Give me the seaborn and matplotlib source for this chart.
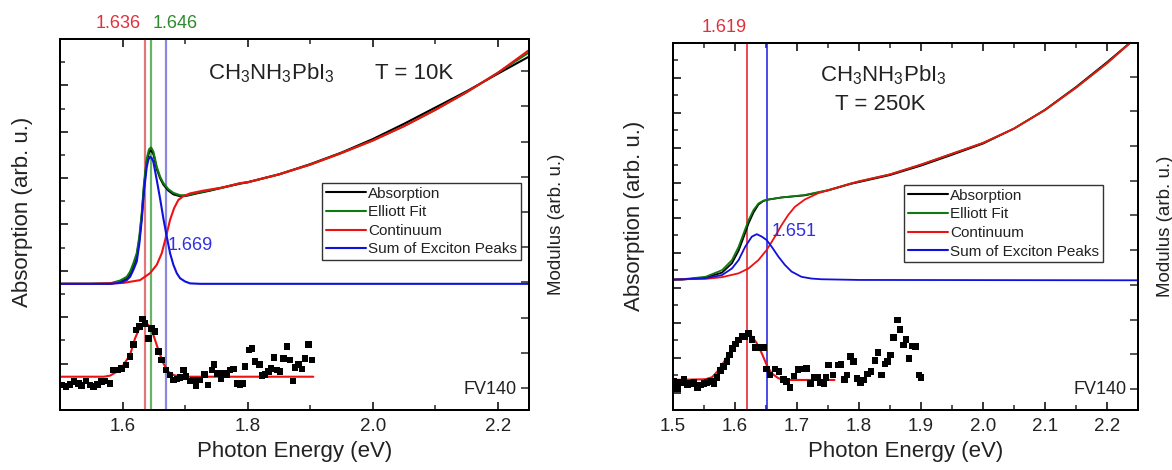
import numpy as np
import pandas as pd
import matplotlib
matplotlib.use('Agg')
import matplotlib.pyplot as plt
import seaborn as sns
from matplotlib.lines import Line2D
from matplotlib.ticker import MultipleLocator, FixedLocator
import matplotlib.transforms as mtransforms

# ---------------- data: left panel (T = 10K) ----------------
L_blue_E = [1.50, 1.548, 1.58, 1.596, 1.6067, 1.612, 1.6173, 1.6227, 1.6269, 1.6307, 1.6344, 1.6387,
            1.6413, 1.644, 1.6467, 1.6493, 1.6547, 1.66, 1.6653, 1.6707, 1.676, 1.6813, 1.6867, 1.692,
            1.70, 1.708, 1.724, 2.25]
L_blue_v = [2.72, 2.72, 2.72, 2.74, 2.80, 2.87, 3.02, 3.20, 3.59, 4.10, 4.74, 5.24,
            5.40, 5.46, 5.43, 5.35, 4.96, 4.56, 4.13, 3.74, 3.38, 3.13, 2.95, 2.84,
            2.77, 2.73, 2.72, 2.72]

L_fit_E = [1.50, 1.548, 1.58, 1.596, 1.6067, 1.612, 1.6173, 1.6227, 1.6269, 1.6307, 1.6344, 1.6387,
           1.6424, 1.6456, 1.6493, 1.6547, 1.66, 1.6653, 1.6733, 1.6813, 1.692, 1.7027, 1.7187, 1.74,
           1.7613, 1.788, 1.80, 1.85, 1.90, 1.95, 2.00, 2.05, 2.10, 2.15, 2.20, 2.25]
L_green_v = [2.72, 2.72, 2.73, 2.79, 2.87, 2.98, 3.16, 3.38, 3.74, 4.24, 4.89, 5.42,
             5.62, 5.66, 5.57, 5.24, 5.03, 4.89, 4.76, 4.68, 4.63, 4.63, 4.68, 4.74,
             4.80, 4.89, 4.91, 5.08, 5.29, 5.54, 5.81, 6.12, 6.47, 6.85, 7.27, 7.71]
L_black_v = [2.72, 2.72, 2.72, 2.76, 2.83, 2.93, 3.10, 3.32, 3.68, 4.18, 4.82, 5.36,
             5.56, 5.60, 5.52, 5.20, 5.00, 4.86, 4.73, 4.65, 4.61, 4.62, 4.67, 4.73,
             4.80, 4.88, 4.91, 5.08, 5.30, 5.55, 5.84, 6.17, 6.52, 6.87, 7.25, 7.62]

L_red_E = [1.50, 1.548, 1.6013, 1.628, 1.644, 1.6547, 1.6627, 1.6696, 1.676, 1.6824, 1.6893, 1.6973,
           1.708, 1.7293, 1.7613, 1.788, 1.80, 1.85, 1.90, 1.95, 2.00, 2.05, 2.10, 2.15, 2.20, 2.25]
L_red_v = [2.72, 2.72, 2.74, 2.80, 2.95, 3.13, 3.38, 3.74, 4.10, 4.35, 4.53, 4.61,
           4.67, 4.73, 4.80, 4.89, 4.91, 5.08, 5.29, 5.54, 5.81, 6.12, 6.47, 6.85, 7.27, 7.76]

L_mod_E = [1.5027, 1.5096, 1.516, 1.5224, 1.5293, 1.5347, 1.5416, 1.548, 1.5533, 1.5597, 1.5667, 1.572,
           1.58, 1.5853, 1.5917, 1.5987, 1.6056, 1.612, 1.6173, 1.6216, 1.6269, 1.6317, 1.636, 1.6413,
           1.6467, 1.652, 1.6573, 1.6627, 1.6696, 1.676, 1.6813, 1.6867, 1.692, 1.6973, 1.7016, 1.708,
           1.7133, 1.7176, 1.724, 1.7309, 1.7363, 1.7427, 1.7464, 1.7507, 1.7571, 1.7613, 1.7667, 1.772,
           1.7773, 1.7827, 1.788, 1.7923, 1.796, 1.8024, 1.8067, 1.812, 1.8189, 1.8227, 1.828, 1.8333,
           1.8376, 1.8424, 1.8467, 1.852, 1.8573, 1.8627, 1.868, 1.8723, 1.876, 1.8813, 1.8867, 1.892,
           1.8973, 1.9027]
L_mod_w = [0.085, 0.038, 0.104, 0.18, 0.133, 0.066, 0.199, 0.085, 0.038, 0.104, 0.18, 0.199,
           0.133, 0.511, 0.511, 0.559, 0.653, 0.89, 1.24, 1.648, 1.742, 1.96, 1.837, 1.411,
           1.695, 1.6, 1.032, 0.795, 0.511, 0.369, 0.227, 0.256, 0.294, 0.511, 0.322, 0.199,
           0.227, 0.066, 0.227, 0.388, 0.085, 0.511, 0.672, 0.417, 0.256, 0.417, 0.388, 0.511,
           0.54, 0.133, 0.104, 0.133, 0.606, 1.08, 1.127, 0.748, 0.672, 0.35, 0.388, 0.464,
           0.559, 0.862, 0.511, 0.464, 0.843, 1.174, 0.795, 0.199, 0.578, 0.672, 0.54, 0.843,
           1.24, 0.795]
L_modfit_E = [1.50, 1.57, 1.58, 1.5907, 1.6013, 1.612, 1.62, 1.628, 1.6344, 1.6413, 1.6493, 1.6573,
              1.6653, 1.6733, 1.6813, 1.692, 1.905]
L_modfit_w = [0.32, 0.32, 0.35, 0.46, 0.65, 0.94, 1.41, 1.74, 1.88, 1.79, 1.51, 1.08,
              0.70, 0.46, 0.37, 0.32, 0.32]

L_peaks = [1.636, 1.646, 1.669]

# ---------------- data: right panel (T = 250K) ----------------
R_blue_E = [1.50, 1.5152, 1.5525, 1.5792, 1.5952, 1.6059, 1.6165, 1.6272, 1.6352, 1.6432, 1.6512, 1.6592,
            1.6699, 1.6805, 1.6912, 1.7072, 1.7232, 1.7392, 1.80, 2.25]
R_blue_v = [3.23, 3.24, 3.27, 3.36, 3.55, 3.79, 4.17, 4.46, 4.53, 4.46, 4.36, 4.17,
            3.89, 3.65, 3.46, 3.31, 3.26, 3.24, 3.22, 3.21]

R_fit_E = [1.50, 1.5152, 1.5525, 1.5792, 1.5952, 1.6059, 1.6139, 1.6219, 1.6299, 1.6379, 1.6459, 1.6539,
           1.6752, 1.7125, 1.7499, 1.7872, 1.80, 1.85, 1.90, 1.95, 2.00, 2.05, 2.10, 2.15, 2.20, 2.25]
R_green_v = [3.23, 3.24, 3.31, 3.50, 3.79, 4.17, 4.55, 4.93, 5.22, 5.41, 5.49, 5.52,
             5.58, 5.65, 5.79, 5.98, 6.04, 6.24, 6.52, 6.83, 7.14, 7.55, 8.08, 8.72, 9.42, 10.2]
R_black_v = [3.23, 3.23, 3.29, 3.43, 3.70, 4.06, 4.44, 4.84, 5.15, 5.38, 5.48, 5.52,
             5.58, 5.64, 5.78, 5.97, 6.02, 6.22, 6.49, 6.80, 7.12, 7.55, 8.09, 8.74, 9.45, 10.2]

R_red_E = [1.50, 1.5152, 1.5525, 1.5792, 1.6059, 1.6219, 1.6379, 1.6512, 1.6645, 1.6752, 1.6859, 1.6965,
           1.7125, 1.7339, 1.7605, 1.7872, 1.80, 1.85, 1.90, 1.95, 2.00, 2.05, 2.10, 2.15, 2.20, 2.25]
R_red_v = [3.23, 3.24, 3.25, 3.30, 3.41, 3.55, 3.79, 4.08, 4.46, 4.79, 5.08, 5.31,
           5.52, 5.70, 5.84, 5.98, 6.04, 6.24, 6.52, 6.83, 7.14, 7.55, 8.08, 8.72, 9.42, 10.2]

R_mod_E = [1.5019, 1.5072, 1.5125, 1.5179, 1.5232, 1.5285, 1.5339, 1.5392, 1.5445, 1.5499, 1.5552, 1.5605,
           1.5659, 1.5712, 1.5765, 1.5819, 1.5872, 1.5909, 1.5963, 1.6005, 1.6059, 1.6112, 1.6165, 1.6219,
           1.6272, 1.6325, 1.6389, 1.6459, 1.6512, 1.6565, 1.6645, 1.6709, 1.6779, 1.6832, 1.6885, 1.6955,
           1.7019, 1.7083, 1.7152, 1.7221, 1.7275, 1.7328, 1.7381, 1.7435, 1.7472, 1.7509, 1.7579, 1.7659,
           1.7712, 1.7765, 1.7808, 1.7861, 1.7915, 1.7968, 1.8021, 1.8075, 1.8139, 1.8192, 1.8256, 1.8309,
           1.8363, 1.8416, 1.8459, 1.8512, 1.8555, 1.8619, 1.8661, 1.8715, 1.8757, 1.8805, 1.8859, 1.8912,
           1.8965, 1.9003]
R_mod_w = [0.211, 0.019, 0.183, 0.279, 0.115, 0.163, 0.183, 0.048, 0.115, 0.163, 0.183, 0.211,
           0.144, 0.336, 0.528, 0.644, 0.788, 0.98, 1.172, 1.297, 1.412, 1.527, 1.508, 1.604,
           1.431, 1.201, 1.201, 1.201, 0.576, 0.403, 0.576, 0.5, 0.279, 0.211, 0.048, 0.375,
           0.567, 0.576, 0.596, 0.163, 0.336, 0.336, 0.183, 0.163, 0.336, 0.692, 0.403, 0.692,
           0.711, 0.279, 0.403, 0.932, 0.788, 0.307, 0.183, 0.259, 0.432, 0.5, 0.817, 1.047,
           0.403, 0.72, 0.788, 0.98, 1.489, 1.988, 1.72, 1.268, 1.431, 0.884, 1.239, 1.22,
           0.403, 0.336]
R_modfit_E = [1.50, 1.5525, 1.5632, 1.5739, 1.5845, 1.5952, 1.6059, 1.6139, 1.6208, 1.6272, 1.6352, 1.6432,
              1.6512, 1.6592, 1.6699, 1.6805, 1.7605]
R_modfit_w = [0.26, 0.28, 0.34, 0.55, 0.84, 1.17, 1.43, 1.56, 1.58, 1.51, 1.32, 1.03,
              0.69, 0.45, 0.31, 0.26, 0.26]

R_peaks = [1.619, 1.651]

legend_labels = ['Absorption', 'Elliott Fit', 'Continuum', 'Sum of Exciton Peaks']

# ---------------- style ----------------
sns.set_theme(style='ticks')
plt.rcParams['font.family'] = ['Liberation Sans', 'DejaVu Sans']
plt.rcParams['mathtext.fontset'] = 'custom'
plt.rcParams['mathtext.rm'] = 'Liberation Sans'
plt.rcParams['mathtext.it'] = 'Liberation Sans:italic'
plt.rcParams['mathtext.bf'] = 'Liberation Sans:bold'

C_BLACK = '#000000'
C_GREEN = '#0f7a0f'
C_RED = '#ee1111'
C_BLUE = '#1010dd'
TXT = '#222222'

fig = plt.figure(figsize=(11.72, 4.70), dpi=100)
axL = fig.add_axes([0.0512, 0.1277, 0.4002, 0.7894])
axR = fig.add_axes([0.5742, 0.1277, 0.3968, 0.7809])


def line(ax, x, y, color, lw):
    sns.lineplot(x=np.asarray(x), y=np.asarray(y), ax=ax, color=color, linewidth=lw,
                 sort=False, estimator=None, legend=False)


def style_axes(ax, twin, ylim, tylim, xmajor, xminor, ymajor, yminor, twin_major):
    ax.set_xlim(1.5, 2.25)
    ax.set_ylim(*ylim)
    twin.set_ylim(*tylim)
    ax.xaxis.set_major_locator(MultipleLocator(xmajor))
    ax.xaxis.set_minor_locator(MultipleLocator(xminor))
    ax.yaxis.set_major_locator(MultipleLocator(ymajor))
    ax.yaxis.set_minor_locator(MultipleLocator(yminor))
    twin.yaxis.set_major_locator(MultipleLocator(twin_major))
    ax.tick_params(axis='both', which='major', direction='in', length=6, width=1.1,
                   top=True, right=False, labelleft=False, labelsize=13.5, colors='black',
                   labelcolor=TXT, pad=6)
    ax.tick_params(axis='both', which='minor', direction='in', length=3.5, width=1.1,
                   top=True, right=False)
    twin.tick_params(axis='y', which='major', direction='in', length=6, width=1.1,
                     right=True, labelright=False)
    twin.tick_params(axis='y', which='minor', right=False)
    for a in (ax, twin):
        for s in a.spines.values():
            s.set_linewidth(1.4)
            s.set_color('black')
            s.set_visible(True)
    ax.set_xlabel('Photon Energy (eV)', fontsize=16, color=TXT, labelpad=4)
    ax.set_ylabel('')
    twin.set_ylabel('')


def legend(ax, anchor):
    handles = [Line2D([], [], color=c, lw=1.5) for c in (C_BLACK, C_GREEN, C_RED, C_BLUE)]
    leg = ax.legend(handles, legend_labels, loc='upper right', bbox_to_anchor=anchor,
                    fontsize=11, frameon=True, fancybox=False, framealpha=1,
                    edgecolor='#333333', borderaxespad=0, borderpad=0.25,
                    labelspacing=0.3, handlelength=2.6, handletextpad=0.15)
    leg.get_frame().set_linewidth(1.0)
    for t in leg.get_texts():
        t.set_color(TXT)
    leg.set_zorder(20)


# ---------------- left panel ----------------
ax = axL
for xp, c in zip(L_peaks, ['#dd5555', '#44a044', '#6a6ad8']):
    ax.axvline(xp, color=c, lw=1.6, alpha=0.8, zorder=1)
line(ax, L_fit_E, L_black_v, C_BLACK, 1.5)
line(ax, L_fit_E, L_green_v, C_GREEN, 1.5)
line(ax, L_red_E, L_red_v, C_RED, 1.5)
line(ax, L_blue_E, L_blue_v, C_BLUE, 1.5)
tw = ax.twinx()
sns.scatterplot(x=np.asarray(L_mod_E), y=np.asarray(L_mod_w), ax=tw, marker='s', s=22,
                color='black', edgecolor='none', linewidth=0, legend=False, zorder=5)
line(tw, L_modfit_E, L_modfit_w, C_RED, 1.5)
style_axes(ax, tw, (0, 8), (-0.625, 9.915), 0.2, 0.1, 1, 0.5, 1)
ax.xaxis.set_major_locator(FixedLocator([1.6, 1.8, 2.0, 2.2]))
legend(ax, (0.983, 0.612))
ax.set_ylabel('Absorption (arb. u.)', fontsize=16, color=TXT)
ax.yaxis.set_label_coords(-0.058, 0.534)
tw.set_ylabel('Modulus (arb. u.)', fontsize=13.5, color=TXT, rotation=90)
tw.yaxis.set_label_coords(1.040, 0.501)
trL = mtransforms.blended_transform_factory(ax.transData, ax.transAxes)
ax.text(1.6295, 1.029, '1.636', transform=trL, ha='right', va='baseline', fontsize=13,
        color='#e0303a', clip_on=False)
ax.text(1.648, 1.029, '1.646', transform=trL, ha='left', va='baseline', fontsize=13,
        color='#2e8b2e', clip_on=False)
ax.text(1.6725, 3.45, '1.669', ha='left', va='baseline', fontsize=13, color='#3030e0')
ax.text(0.3156, 0.892, r'CH$_3$NH$_3$PbI$_3$', transform=ax.transAxes, ha='left',
        va='baseline', fontsize=16, color=TXT)
ax.text(0.672, 0.892, 'T = 10K', transform=ax.transAxes, ha='left', va='baseline',
        fontsize=16, color=TXT)
ax.text(0.974, 0.043, 'FV140', transform=ax.transAxes, ha='right', va='baseline',
        fontsize=13, color=TXT)

# ---------------- right panel ----------------
ax = axR
for xp, c in zip(R_peaks, ['#e01a22', '#1a1ae0']):
    ax.axvline(xp, color=c, lw=1.1, zorder=1)
line(ax, R_fit_E, R_black_v, C_BLACK, 1.3)
line(ax, R_fit_E, R_green_v, C_GREEN, 1.3)
line(ax, R_red_E, R_red_v, C_RED, 1.3)
line(ax, R_blue_E, R_blue_v, C_BLUE, 1.3)
tw = ax.twinx()
sns.scatterplot(x=np.asarray(R_mod_E), y=np.asarray(R_mod_w), ax=tw, marker='s', s=22,
                color='black', edgecolor='none', linewidth=0, legend=False, zorder=5)
line(tw, R_modfit_E, R_modfit_w, C_RED, 1.5)
style_axes(ax, tw, (-0.5, 10), (-0.605, 9.97), 0.1, 0.05, 1, 0.5, 1)
legend(ax, (0.925, 0.613))
ax.set_ylabel('Absorption (arb. u.)', fontsize=16, color=TXT)
ax.yaxis.set_label_coords(-0.060, 0.529)
tw.set_ylabel('Modulus (arb. u.)', fontsize=13.5, color=TXT, rotation=90)
tw.yaxis.set_label_coords(1.041, 0.501)
trR = mtransforms.blended_transform_factory(ax.transData, ax.transAxes)
ax.text(1.6185, 1.029, '1.619', transform=trR, ha='right', va='baseline', fontsize=13,
        color='#e0303a', clip_on=False)
ax.text(1.659, 4.48, '1.651', ha='left', va='baseline', fontsize=13, color='#3030e0')
ax.text(0.316, 0.894, r'CH$_3$NH$_3$PbI$_3$', transform=ax.transAxes, ha='left',
        va='baseline', fontsize=16, color=TXT)
ax.text(0.348, 0.817, 'T = 250K', transform=ax.transAxes, ha='left', va='baseline',
        fontsize=16, color=TXT)
ax.text(0.976, 0.044, 'FV140', transform=ax.transAxes, ha='right', va='baseline',
        fontsize=13, color=TXT)

fig.savefig('out.png', dpi=100)
